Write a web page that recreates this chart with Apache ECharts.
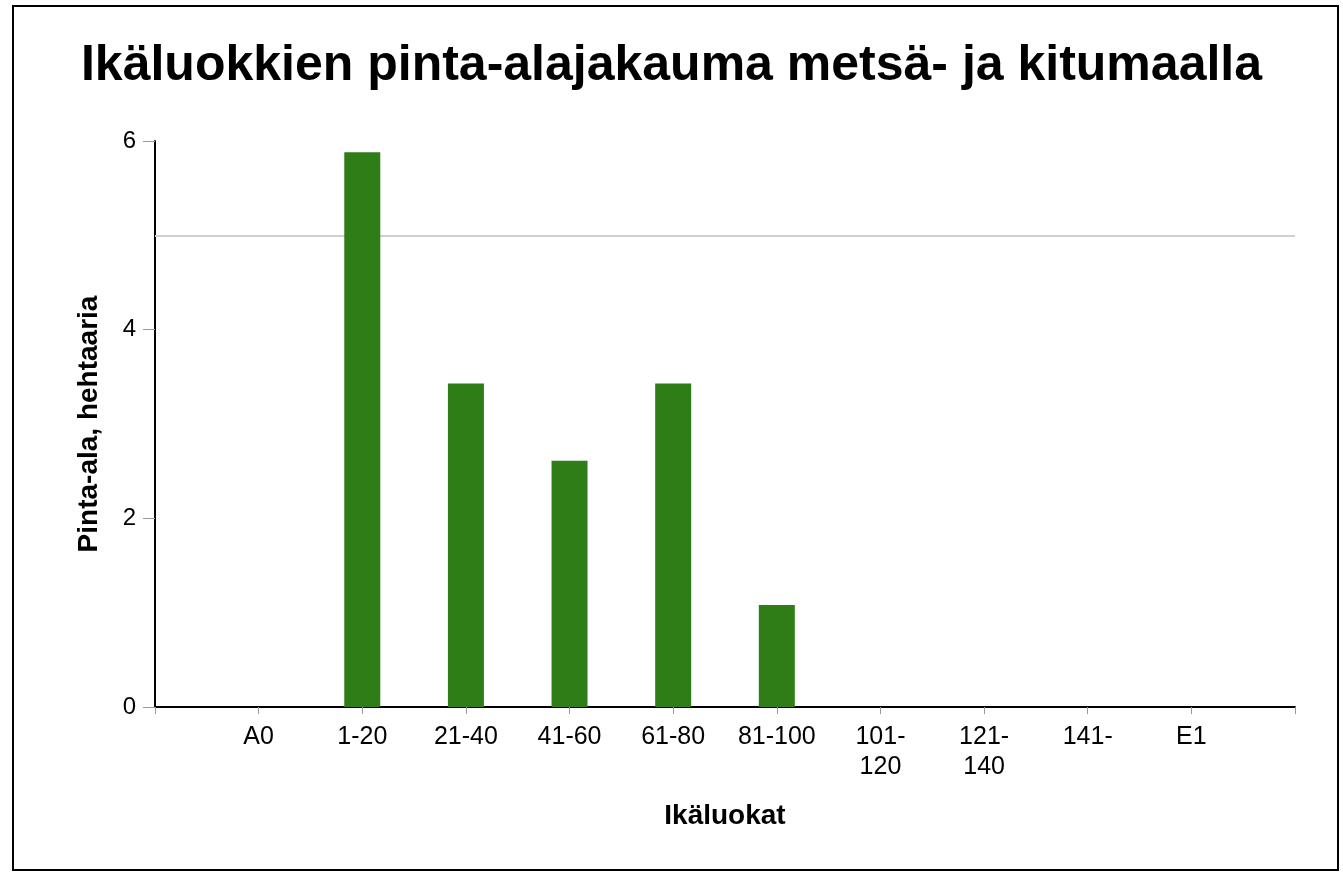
<!DOCTYPE html>
<html>
<head>
<meta charset="utf-8">
<script src="https://cdn.jsdelivr.net/npm/echarts@6/dist/echarts.min.js"></script>
<style>
  html, body { margin: 0; padding: 0; background: #fff; }
  #chart { width: 1343px; height: 882px; }
</style>
</head>
<body>
<div id="chart"></div>
<script>
var categories = ['', 'A0', '1-20', '21-40', '41-60', '61-80', '81-100', '101-120', '121-140', '141-', 'E1', ''];
var areas = [null, 0, 5.88, 3.43, 2.61, 3.43, 1.08, 0, 0, 0, 0, null];
var yTicks = [0, 2, 4, 6];
var refLine = 5;

var chart = echarts.init(document.getElementById('chart'));
var font = 'Liberation Sans, Arial, sans-serif';

var option = {
  animation: false,
  title: {
    text: 'Ikäluokkien pinta-alajakauma metsä- ja kitumaalla',
    left: 'center',
    top: 36,
    textStyle: { fontFamily: font, fontSize: 50, fontWeight: 'bold', color: '#000' }
  },
  graphic: [{
    type: 'rect',
    shape: { x: 13, y: 6, width: 1325, height: 864 },
    style: { fill: 'none', stroke: '#000', lineWidth: 2 }
  }],
  grid: {
    top: 141,
    left: 155,
    right: 48,
    bottom: 175
  },
  xAxis: {
    type: 'category',
    data: categories,
    boundaryGap: false,
    name: 'Ikäluokat',
    nameLocation: 'middle',
    nameGap: 95,
    nameTextStyle: { fontFamily: font, fontSize: 28, fontWeight: 'bold', color: '#000' },
    axisLine: { lineStyle: { color: '#000', width: 2 } },
    axisTick: { length: 7, interval: 0, lineStyle: { color: '#999' } },
    axisLabel: {
      interval: 0,
      margin: 15,
      fontFamily: font,
      fontSize: 25,
      lineHeight: 30,
      color: '#000',
      formatter: function (v) { return v.length > 6 ? v.replace('-', '-\n') : v; }
    },
    splitLine: { show: false }
  },
  yAxis: {
    type: 'value',
    min: yTicks[0],
    max: yTicks[yTicks.length - 1],
    interval: 2,
    name: 'Pinta-ala, hehtaaria',
    nameLocation: 'middle',
    nameGap: 52,
    nameTextStyle: { fontFamily: font, fontSize: 28, fontWeight: 'bold', color: '#000' },
    axisLine: { show: true, lineStyle: { color: '#000', width: 2 } },
    axisTick: { show: true, length: 12, lineStyle: { color: '#999' } },
    axisLabel: { margin: 19, fontFamily: font, fontSize: 24, color: '#000' },
    splitLine: { show: false }
  },
  series: [{
    type: 'bar',
    data: areas,
    barWidth: 36,
    itemStyle: { color: '#2f7d17' },
    markLine: {
      silent: true,
      z: 1,
      symbol: 'none',
      label: { show: false },
      lineStyle: { color: '#d0d0d0', width: 2, type: 'solid' },
      data: [{ yAxis: refLine }]
    }
  }]
};

chart.setOption(option);
</script>
</body>
</html>
